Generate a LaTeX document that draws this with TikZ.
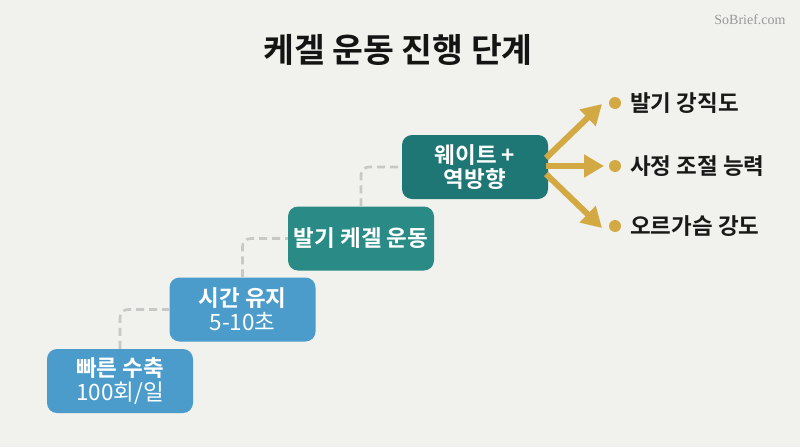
\documentclass[tikz,border=0pt]{standalone}
\usepackage{fontspec}
\setmainfont{Noto Sans CJK KR}[BoldFont={Noto Sans CJK KR Bold}]
\newfontfamily\wmfont{Liberation Serif}
\usetikzlibrary{arrows.meta}
\definecolor{bg}{HTML}{F1F1ED}
\definecolor{bluebox}{HTML}{4B9CCB}
\definecolor{tealA}{HTML}{2A8B86}
\definecolor{tealB}{HTML}{1F7775}
\definecolor{gold}{HTML}{D3A944}
\definecolor{dashgray}{HTML}{C8C8C6}
\begin{document}
\begin{tikzpicture}[x=1pt,y=-1pt,
  stepbox/.style={rounded corners=10pt, minimum width=146pt, minimum height=64pt,
    inner sep=0pt, text=white, align=center, font=\fontsize{22.5}{24}\selectfont},
  conn/.style={draw=dashgray, line width=2.6pt, dash pattern=on 8pt off 5pt, rounded corners=8pt},
  goldarrow/.style={draw=gold, line width=6pt, -{Triangle[length=20pt,width=22pt]}},
  golddot/.style={circle, fill=gold, minimum size=12pt, inner sep=0pt},
  lbl/.style={anchor=west, font=\bfseries\fontsize{22.5}{24}\selectfont, text=black!90, inner sep=0pt}
]
\fill[bg] (0,0) rectangle (800,447);
\useasboundingbox (0,0) rectangle (800,447);

\node[font=\bfseries\fontsize{33.5}{36}\selectfont, text=black!92] (title) at (398,50) {케겔 운동 진행 단계};
\node[font=\wmfont\fontsize{14}{16}\selectfont, text=black!40] (wm) at (750,20) {SoBrief.com};

\node[stepbox, fill=bluebox] (b1) at (120,381) {\textbf{빠른 수축}\\100회/일};
\node[stepbox, fill=bluebox] (b2) at (242.5,309.5) {\textbf{시간 유지}\\5-10초};
\node[stepbox, fill=tealA] (b3) at (361,238.5) {\textbf{발기 케겔 운동}};
\node[stepbox, fill=tealB] (b4) at (475,167) {\textbf{웨이트 +}\\\textbf{역방향}};

\draw[conn] (b1.north) |- (b2.west);
\draw[conn] (b2.north) |- (b3.west);
\draw[conn] (b3.north) |- (b4.west);

\coordinate (s1) at (546,158);
\coordinate (s2) at (546,166);
\coordinate (s3) at (546,174);
\coordinate (t1) at (602,104);
\coordinate (t2) at (604,166);
\coordinate (t3) at (602,228);
\draw[goldarrow] (s1) -- (t1);
\draw[goldarrow] (s2) -- (t2);
\draw[goldarrow] (s3) -- (t3);

\node[golddot] (d1) at (615,103) {};
\node[golddot] (d2) at (615,166) {};
\node[golddot] (d3) at (615,226) {};
\node[lbl] (l1) at (630,103) {발기 강직도};
\node[lbl] (l2) at (630,166) {사정 조절 능력};
\node[lbl] (l3) at (630,226) {오르가슴 강도};
\end{tikzpicture}
\end{document}
